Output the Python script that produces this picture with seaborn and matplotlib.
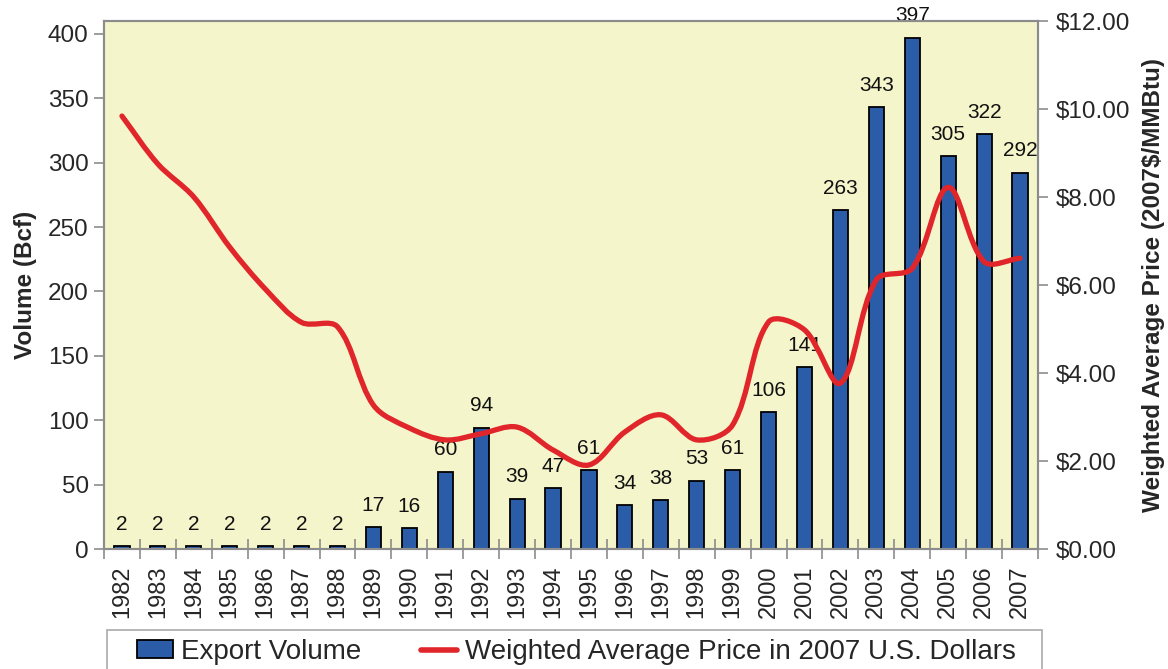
import numpy as np
import pandas as pd
import matplotlib
matplotlib.use("Agg")
import matplotlib.pyplot as plt
import seaborn as sns
from matplotlib.path import Path
from matplotlib.patches import PathPatch, Patch, Rectangle
from matplotlib.lines import Line2D
from matplotlib.ticker import FixedLocator, FuncFormatter

years = [str(y) for y in range(1982, 2008)]
export_volume = [2, 2, 2, 2, 2, 2, 2, 17, 16, 60, 94, 39, 47, 61, 34, 38, 53, 61,
                 106, 141, 263, 343, 397, 305, 322, 292]
avg_price = [9.84, 8.75, 8.00, 6.86, 5.90, 5.15, 5.05, 3.27, 2.75, 2.48, 2.62, 2.77,
             2.25, 1.91, 2.66, 3.05, 2.48, 2.82, 5.16, 4.98, 3.77, 6.12, 6.38, 8.22,
             6.53, 6.61]

bar_color = "#2B5CA8"
line_color = "#E0262A"
bg_color = "#F5F5CC"
frame_color = "#8C8C8C"

sns.set_theme(style="ticks")
plt.rcParams["font.family"] = ["Liberation Sans", "DejaVu Sans"]

df = pd.DataFrame({"year": years, "volume": export_volume, "price": avg_price})

W, H = 1168, 669
fig = plt.figure(figsize=(W / 100, H / 100), dpi=100)
ax_box = [104 / W, 1 - 549 / H, (1038 - 104) / W, (549 - 21) / H]
ax = fig.add_axes(ax_box)
ax.set_facecolor(bg_color)

sns.barplot(data=df, x="year", y="volume", color=bar_color, edgecolor="black",
            linewidth=1.3, width=0.42, saturation=1, ax=ax)

# value labels above the bars
for i, v in enumerate(export_volume):
    ax.annotate(str(v), (i, v), xytext=(0, 9), textcoords="offset points",
                ha="center", va="bottom", fontsize=15, color="#111111",
                annotation_clip=False)

ax.set_xlim(-0.5, len(years) - 0.5)
ax.set_ylim(0, 410)
ax.set_yticks(range(0, 401, 50))
ax.set_xlabel("")
ax.set_ylabel("Volume (Bcf)", fontsize=17.5, fontweight="bold", labelpad=8)
ax.tick_params(axis="y", labelsize=17.5, color=frame_color, length=7, width=1.2,
               direction="out", pad=4)
ax.tick_params(axis="x", which="major", labelsize=17, length=0, pad=12,
               labelrotation=90)
ax.xaxis.set_minor_locator(FixedLocator(np.arange(-0.5, len(years), 1.0)))
ax.tick_params(axis="x", which="minor", direction="inout", length=14,
               color=frame_color, width=1.2)

for s in ax.spines.values():
    s.set_color(frame_color)
    s.set_linewidth(1.5)

# price on the secondary axis, smoothed curve through the yearly values
ax2 = ax.twinx()
ax2.set_ylim(0, 12)
ax2.set_yticks(range(0, 13, 2))
ax2.yaxis.set_major_formatter(FuncFormatter(lambda v, p: f"${v:.2f}"))
ax2.tick_params(axis="y", labelsize=17.5, color=frame_color, length=7, width=1.2,
                direction="out", pad=6)
ax2.set_ylabel("Weighted Average Price (2007$/MMBtu)", fontsize=17.5,
               fontweight="bold", labelpad=8)
for s in ax2.spines.values():
    s.set_color(frame_color)
    s.set_linewidth(1.5)

# chord-weighted Catmull-Rom, measured in screen proportions
sx = (1038 - 104) / len(years)
sy = (549 - 21) / 12.0
pts = np.column_stack([np.arange(len(avg_price)) * sx, np.array(avg_price) * sy])
n = len(pts)
pad = np.vstack([pts[0], pts, pts[-1]])
dist = np.hypot(*np.diff(pad, axis=0).T)  # dist[k] = |pad[k+1]-pad[k]|


def ctrl(i, forward):
    # control point leaving/entering point i (index into pts)
    p_prev, p_next = pad[i], pad[i + 2]
    d_in, d_out = dist[i], dist[i + 1]
    tot = d_in + d_out
    if tot == 0:
        return pts[i]
    if forward:
        return pts[i] + (p_next - p_prev) * (d_out / tot) / 3.0
    return pts[i] - (p_next - p_prev) * (d_in / tot) / 3.0


verts = [tuple(pts[0])]
codes = [Path.MOVETO]
for i in range(n - 1):
    verts += [tuple(ctrl(i, True)), tuple(ctrl(i + 1, False)), tuple(pts[i + 1])]
    codes += [Path.CURVE4] * 3
verts = np.array(verts) / np.array([sx, sy])
ax2.add_patch(PathPatch(Path(verts, codes), facecolor="none", edgecolor=line_color,
                        linewidth=3.8, capstyle="round", joinstyle="round"))

# legend: frame box plus entries spread across it
fig.add_artist(Rectangle((107 / W, -0.05), (1042 - 107) / W, (1 - 630 / H) + 0.05,
                         transform=fig.transFigure, facecolor="white",
                         edgecolor="#AAAAAA", linewidth=1.2, zorder=0))
handles = [Patch(facecolor=bar_color, edgecolor="black", linewidth=1.3),
           Line2D([], [], color=line_color, linewidth=4)]
labels = ["Export Volume", "Weighted Average Price in 2007 U.S. Dollars"]
fig.legend(handles, labels, loc="center left", mode="expand",
           bbox_to_anchor=(137 / W, 1 - 652 / H, (1016 - 137) / W, 0), ncol=2,
           fontsize=20, frameon=False, handlelength=1.3, handleheight=0.6,
           handletextpad=0.3, borderpad=0, borderaxespad=0)

fig.savefig("out.png", dpi=100, facecolor="white")
